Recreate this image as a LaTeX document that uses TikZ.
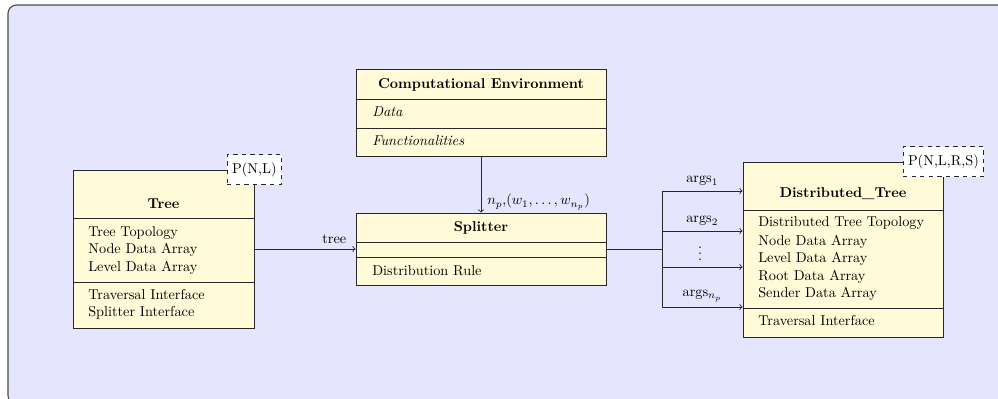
\documentclass[tikz,border=0pt]{standalone}
\usetikzlibrary{fit}
\definecolor{panelbg}{RGB}{229,229,253}
\definecolor{classfill}{RGB}{255,250,215}
\definecolor{edgecol}{RGB}{40,40,40}
\begin{document}
\begin{tikzpicture}[x=0.7pt,y=-0.7pt,
  classbox/.style={draw=edgecol, fill=classfill, line width=0.6pt, inner sep=0pt},
  tmpl/.style={draw=edgecol, dashed, fill=white, line width=0.6pt, inner xsep=3.5pt, minimum height=21pt},
  member/.style={anchor=base west, inner sep=0pt},
  ctitle/.style={anchor=base, inner sep=0pt, font=\bfseries},
  conn/.style={draw=edgecol, line width=0.6pt},
  arr/.style={conn, ->}
]
\useasboundingbox (0,0) rectangle (998,398);
% panel
\begin{scope}
  \clip (0,0) rectangle (998,398);
  \draw[fill=panelbg, draw=black!70, line width=0.8pt, rounded corners=6pt] (8,5) rectangle (1012,404);
\end{scope}

% ---- Tree ----
\node[classbox, fit={(73,170) (254,328)}] (tree) {};
\draw[conn] (tree.west |- 0,218) -- (tree.east |- 0,218);
\draw[conn] (tree.west |- 0,282) -- (tree.east |- 0,282);
\node[ctitle] (treename) at (163.5,208) {Tree};
\node[member] (tree1) at (88,236) {Tree Topology};
\node[member] (tree2) at (88,253) {Node Data Array};
\node[member] (tree3) at (88,271) {Level Data Array};
\node[member] (tree4) at (88,299) {Traversal Interface};
\node[member] (tree5) at (88,316) {Splitter Interface};
\node[tmpl] (treeparam) at (tree.north east) {P(N,L)};

% ---- Computational Environment ----
\node[classbox, fit={(356,69) (606,156)}] (compenv) {};
\draw[conn] (compenv.west |- 0,99) -- (compenv.east |- 0,99);
\draw[conn] (compenv.west |- 0,128) -- (compenv.east |- 0,128);
\node[ctitle] (compname) at (481,88) {Computational Environment};
\node[member] (comp1) at (372,116) {\itshape Data};
\node[member] (comp2) at (372,145) {\itshape Functionalities};

% ---- Splitter ----
\node[classbox, fit={(356,213) (606,285)}] (splitter) {};
\draw[conn] (splitter.west |- 0,242) -- (splitter.east |- 0,242);
\draw[conn] (splitter.west |- 0,257) -- (splitter.east |- 0,257);
\node[ctitle] (splitname) at (481,231) {Splitter};
\node[member] (split1) at (372,275) {Distribution Rule};

% ---- Distributed_Tree ----
\node[classbox, fit={(743,162) (943,337)}] (dtree) {};
\draw[conn] (dtree.west |- 0,210) -- (dtree.east |- 0,210);
\draw[conn] (dtree.west |- 0,308) -- (dtree.east |- 0,308);
\node[ctitle] (dtname) at (843,197) {Distributed\_Tree};
\node[member] (dt1) at (758,226) {Distributed Tree Topology};
\node[member] (dt2) at (758,245) {Node Data Array};
\node[member] (dt3) at (758,262) {Level Data Array};
\node[member] (dt4) at (758,280) {Root Data Array};
\node[member] (dt5) at (758,297) {Sender Data Array};
\node[member] (dt6) at (758,325) {Traversal Interface};
\node[tmpl] (dtparam) at (dtree.north east) {P(N,L,R,S)};

% ---- connectors ----
\draw[arr] (tree.east) -- node[above, pos=0.79] (treelbl) {tree} (splitter.west);
\draw[arr] (compenv.south) -- (splitter.north);
\node[anchor=west, inner sep=0pt] (wlbl) at (487,202) {$n_p$,$(w_1, \ldots, w_{n_p})$};

\coordinate (busjoin) at (662,249);
\coordinate (b1) at (662,191);
\coordinate (b2) at (662,231);
\coordinate (b3) at (662,267);
\coordinate (b4) at (662,307);
\draw[conn] (splitter.east) -- (busjoin);
\draw[conn] (b1) -- (b4);
\draw[arr] (b1) -- node[above] (a1) {args$_1$} (b1 -| dtree.west);
\draw[arr] (b2) -- node[above] (a2) {args$_2$} (b2 -| dtree.west);
\draw[arr] (b3) -- (b3 -| dtree.west);
\draw[arr] (b4) -- node[above] (a4) {args$_{n_p}$} (b4 -| dtree.west);
% vertical dots without the top kern of \vdots
\node[anchor=base, inner sep=0pt] (vd) at (700,260)
  {\vbox{\baselineskip4pt\lineskiplimit0pt\hbox{.}\hbox{.}\hbox{.}}};
\end{tikzpicture}
\end{document}
